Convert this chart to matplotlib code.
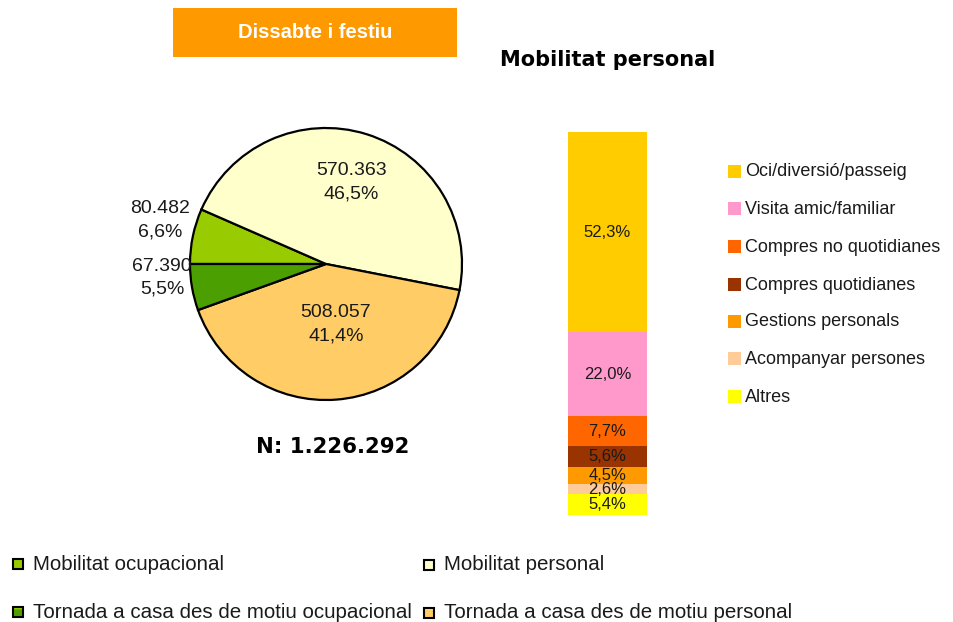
import matplotlib
matplotlib.use("Agg")
import matplotlib.pyplot as plt
from matplotlib.patches import Rectangle
import math

# ---------------- data ----------------
pie_labels = ["Mobilitat ocupacional", "Mobilitat personal",
              "Tornada a casa des de motiu personal",
              "Tornada a casa des de motiu ocupacional"]
pie_values = [80482, 570363, 508057, 67390]
pie_colors = ["#99CC00", "#FFFFCC", "#FFCC66", "#4C9F00"]

bar_categories = ["Oci/diversió/passeig", "Visita amic/familiar",
                  "Compres no quotidianes", "Compres quotidianes",
                  "Gestions personals", "Acompanyar persones", "Altres"]
bar_values = [52.3, 22.0, 7.7, 5.6, 4.5, 2.6, 5.4]
bar_colors = ["#FFCC00", "#FF99CC", "#FF6600", "#993300",
              "#FF9900", "#FFCC99", "#FFFF00"]

header_text = "Dissabte i festiu"
title_text = "Mobilitat personal"

W, H = 954, 622
plt.rcParams["hatch.linewidth"] = 1.5
fig = plt.figure(figsize=(W / 100, H / 100), dpi=100)
fig.patch.set_facecolor("white")

def fr(x0, y0, x1, y1):
    return [x0 / W, 1 - y1 / H, (x1 - x0) / W, (y1 - y0) / H]

SANS = ["Liberation Sans", "DejaVu Sans"]
WIDE = ["DejaVu Sans"]

# overlay for annotations
ov = fig.add_axes([0, 0, 1, 1])
ov.set_xlim(0, W)
ov.set_ylim(H, 0)
ov.axis("off")

# header box
ov.add_patch(Rectangle((173, 8), 284, 49, facecolor="#FF9900", edgecolor="none"))
ov.text(315, 32, header_text, color="white", fontsize=14.5, fontweight="bold",
        family=SANS, ha="center", va="center")
ov.text(608, 60, title_text, color="black", fontsize=15, fontweight="bold",
        family=WIDE, ha="center", va="center")

# ---------------- pie ----------------
cx, cy, R = 326, 264, 136
axp = fig.add_axes(fr(cx - R, cy - R, cx + R, cy + R))
wedges, _ = axp.pie(pie_values, colors=pie_colors, startangle=180,
                    counterclock=False, radius=1,
                    wedgeprops=dict(edgecolor="black", linewidth=1.6))
axp.set_xlim(-1, 1)
axp.set_ylim(-1, 1)
axp.axis("off")

total = sum(pie_values)
label_r = [1.26, 0.63, 0.45, 1.21]
label_da = [-3, 0, 5, -5]
for w, v, r, da in zip(wedges, pie_values, label_r, label_da):
    mid = math.radians((w.theta1 + w.theta2) / 2 + da)
    txt = "{:,}".format(v).replace(",", ".") + "\n" + \
          "{:.1f}%".format(v / total * 100).replace(".", ",")
    axp.text(r * math.cos(mid), r * math.sin(mid), txt, ha="center",
             va="center", fontsize=14, family=SANS, color="#1a1a1a",
             linespacing=1.45, clip_on=False)

ov.text(333, 447, "N: " + "{:,}".format(total).replace(",", "."),
        fontsize=15.3, fontweight="bold", family=WIDE, ha="center", va="center")

# ---------------- stacked bar ----------------
axb = fig.add_axes(fr(568, 132, 647, 515))
bottom = 0
for cat, v, c in reversed(list(zip(bar_categories, bar_values, bar_colors))):
    axb.bar(0, v, bottom=bottom, width=1, color=c, edgecolor="none")
    axb.text(0, bottom + v / 2, "{:.1f}%".format(v).replace(".", ","),
             ha="center", va="center", fontsize=12, family=SANS,
             color="#1a1a1a")
    bottom += v
axb.set_xlim(-0.5, 0.5)
axb.set_ylim(0, bottom)
axb.axis("off")

# right legend
rows = [171, 208.5, 246, 284, 321, 358, 396]
for cat, c, y in zip(bar_categories, bar_colors, rows):
    ov.add_patch(Rectangle((728, y - 6.5), 13, 13, facecolor=c, edgecolor="none"))
    ov.text(745, y + 1, cat, fontsize=13, family=SANS, ha="left", va="center",
            color="#1a1a1a")

# bottom legend
legend_pos = [(13, 564), (424, 565), (424, 613), (13, 612)]
hatched = [False, False, True, True]
stripe = ["", "", "#FFFFCC", "#99CC00"]
for lab, c, (x, y), hch, sc in zip(pie_labels, pie_colors, legend_pos, hatched, stripe):
    if hch:
        ov.add_patch(Rectangle((x, y - 5), 10, 10, facecolor=c, edgecolor=sc,
                               linewidth=0, hatch="-"))
        ov.add_patch(Rectangle((x, y - 5), 10, 10, facecolor="none",
                               edgecolor="black", linewidth=1.5))
    else:
        ov.add_patch(Rectangle((x, y - 5), 10, 10, facecolor=c,
                               edgecolor="black", linewidth=1.5))
    ov.text(x + 20, y, lab, fontsize=14.8, family=SANS, ha="left",
            va="center", color="#1a1a1a")

fig.savefig("out.png", dpi=100)
